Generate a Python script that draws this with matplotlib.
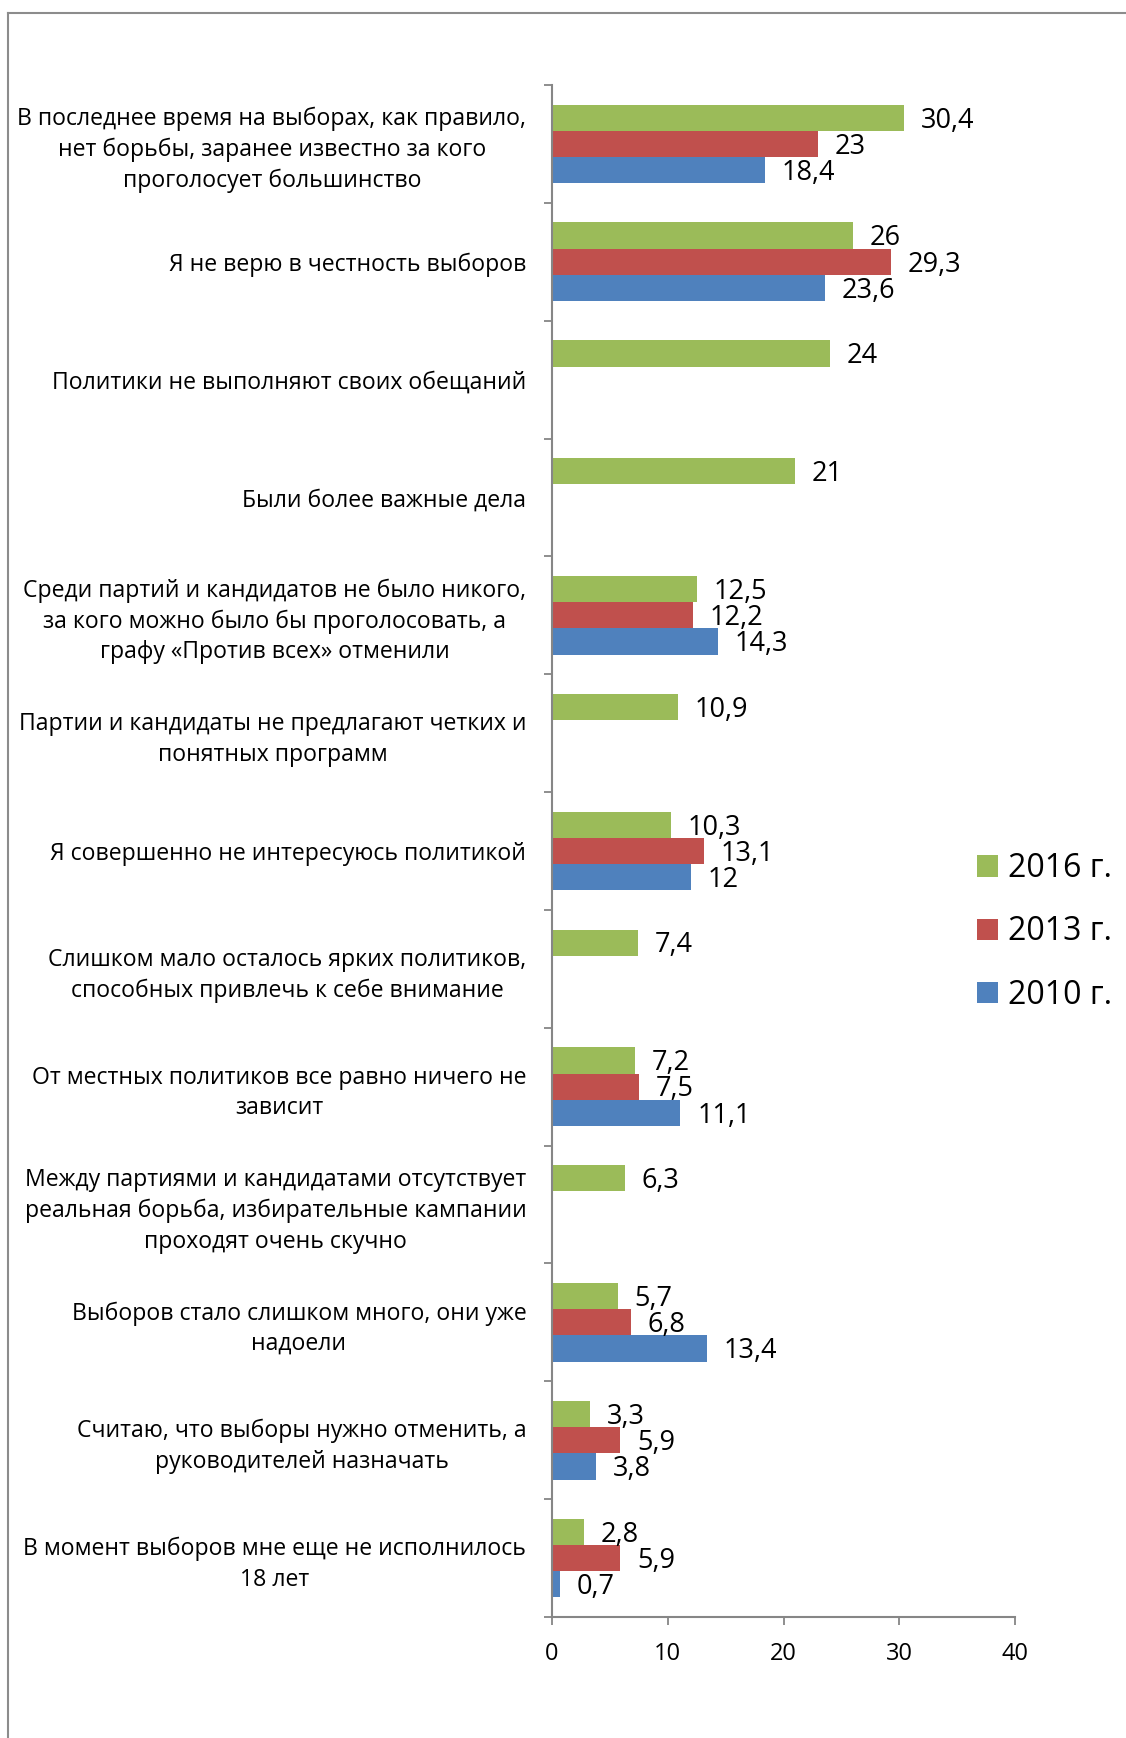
import matplotlib
matplotlib.use("Agg")
import matplotlib.pyplot as plt
from matplotlib.lines import Line2D
import numpy as np

plt.rcParams['font.family'] = ['Open Sans', 'DejaVu Sans']

categories = [
    "В последнее время на выборах, как правило,\nнет борьбы, заранее известно за кого\nпроголосует большинство",
    "Я не верю в честность выборов",
    "Политики не выполняют своих обещаний",
    "Были более важные дела",
    "Среди партий и кандидатов не было никого,\nза кого можно было бы проголосовать, а\nграфу «Против всех» отменили",
    "Партии и кандидаты не предлагают четких и\nпонятных программ",
    "Я совершенно не интересуюсь политикой",
    "Слишком мало осталось ярких политиков,\nспособных привлечь к себе внимание",
    "От местных политиков все равно ничего не\nзависит",
    "Между партиями и кандидатами отсутствует\nреальная борьба, избирательные кампании\nпроходят очень скучно",
    "Выборов стало слишком много, они уже\nнадоели",
    "Считаю, что выборы нужно отменить, а\nруководителей назначать",
    "В момент выборов мне еще не исполнилось\n18 лет",
]
values_2016 = [30.4, 26, 24, 21, 12.5, 10.9, 10.3, 7.4, 7.2, 6.3, 5.7, 3.3, 2.8]
values_2013 = [23, 29.3, None, None, 12.2, None, 13.1, None, 7.5, None, 6.8, 5.9, 5.9]
values_2010 = [18.4, 23.6, None, None, 14.3, None, 12, None, 11.1, None, 13.4, 3.8, 0.7]
series_names = ["2016 г.", "2013 г.", "2010 г."]
series_colors = ["#9BBB59", "#C0504D", "#4F81BD"]
x_ticks = [0, 10, 20, 30, 40]

W, H = 1126, 1738
fig = plt.figure(figsize=(W / 100, H / 100), dpi=100)
ax = fig.add_axes([552 / W, 1 - 1617 / H, (1015 - 552) / W, (1617 - 85) / H])

n = len(categories)
bar_h = 1 / 4.5
offsets = [-bar_h, 0, bar_h]
all_series = [values_2016, values_2013, values_2010]
handles = []
for s, (vals, name, col, off) in enumerate(zip(all_series, series_names, series_colors, offsets)):
    ys = [i + 0.5 + off for i, v in enumerate(vals) if v is not None]
    ws = [v for v in vals if v is not None]
    bars = ax.barh(ys, ws, height=bar_h, color=col, edgecolor='none', label=name)
    handles.append(bars)
    for y, w in zip(ys, ws):
        ax.annotate(f"{w:g}".replace('.', ','), xy=(w, y), xytext=(12, -2),
                    textcoords='offset points', va='center', ha='left',
                    fontsize=19.5, color='black')

ax.set_xlim(0, 40)
ax.set_ylim(n, 0)
ax.set_xticks(x_ticks)
ax.set_xticklabels([str(t) for t in x_ticks], fontsize=17)
ax.set_yticks(np.arange(0, n + 1))
ax.set_yticklabels([])
ax.set_yticks(np.arange(n) + 0.5, minor=True)
ax.set_yticklabels(categories, minor=True, fontsize=16.6)
for lab in ax.get_yticklabels(minor=True):
    lab.set_multialignment('center')
    lab.set_linespacing(1.36)
ax.tick_params(axis='y', which='major', length=6, width=1.3, color='#868686', direction='out')
ax.tick_params(axis='y', which='minor', length=0, pad=18.5)
ax.tick_params(axis='x', which='major', length=6, width=1.3, color='#868686', direction='out', pad=12)

for side in ['top', 'right']:
    ax.spines[side].set_visible(False)
for side in ['left', 'bottom']:
    ax.spines[side].set_color('#868686')
    ax.spines[side].set_linewidth(1.5)

leg = fig.legend(handles=handles, labels=series_names, loc='center left',
                 bbox_to_anchor=(977 / W, 1 - 932 / H), frameon=False,
                 fontsize=23, handlelength=0.66, handleheight=0.66,
                 handletextpad=0.3, labelspacing=0.95, borderpad=0,
                 borderaxespad=0)

# outer frame
fig.add_artist(Line2D([8 / W, 8 / W], [0, 1 - 13 / H], color='#8c8c8c', lw=1.5,
                      transform=fig.transFigure))
fig.add_artist(Line2D([8 / W, 1], [1 - 13 / H, 1 - 13 / H], color='#8c8c8c', lw=1.5,
                      transform=fig.transFigure))

fig.savefig("out.png", dpi=100)
